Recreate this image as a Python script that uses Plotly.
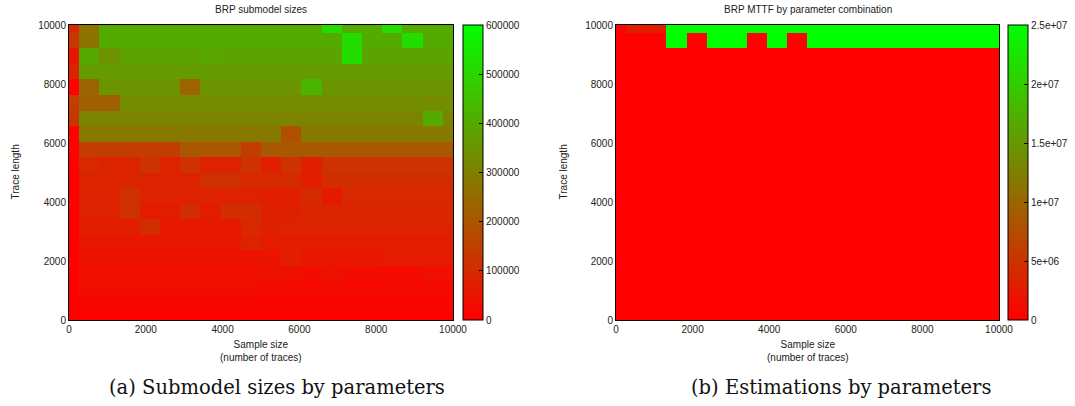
import numpy as np
import plotly.graph_objects as go

# ---------------- data ----------------
sample_sizes = [round(v) for v in np.linspace(0, 10000, 20)]   # x grid (20 points)
trace_lengths = [round(v) for v in np.linspace(0, 10000, 20)]  # y grid (20 points)

# (a) BRP submodel sizes, rows from trace length 0 (bottom) to 10000 (top)
size_r00 = [1000, 2000, 2000, 2000, 2000, 2000, 2000, 2000, 2000, 2000, 2000, 2000, 2000, 2000, 2000, 2000, 2000, 2000, 2000, 2000]
size_r01 = [1000, 16000, 16000, 16000, 16000, 16000, 16000, 16000, 16000, 16000, 12000, 12000, 12000, 12000, 12000, 12000, 12000, 12000, 12000, 12000]
size_r02 = [1000, 28000, 28000, 28000, 28000, 28000, 28000, 28000, 28000, 28000, 22000, 22000, 22000, 22000, 22000, 22000, 22000, 22000, 22000, 22000]
size_r03 = [2000, 35000, 35000, 35000, 35000, 35000, 35000, 35000, 35000, 35000, 40000, 40000, 28000, 42000, 28000, 28000, 24000, 24000, 35000, 35000]
size_r04 = [2000, 42000, 42000, 42000, 42000, 42000, 42000, 42000, 42000, 42000, 47000, 71000, 52000, 52000, 52000, 52000, 61000, 61000, 61000, 61000]
size_r05 = [2000, 52000, 52000, 52000, 52000, 52000, 52000, 52000, 52000, 82000, 66000, 66000, 66000, 66000, 66000, 66000, 66000, 66000, 66000, 66000]
size_r06 = [2000, 71000, 71000, 71000, 106000, 59000, 59000, 59000, 59000, 94000, 75000, 82000, 82000, 82000, 82000, 82000, 82000, 82000, 82000, 82000]
size_r07 = [2000, 78000, 78000, 113000, 66000, 66000, 106000, 66000, 106000, 106000, 75000, 75000, 87000, 87000, 87000, 87000, 87000, 87000, 87000, 87000]
size_r08 = [2000, 82000, 82000, 113000, 78000, 78000, 78000, 78000, 78000, 78000, 71000, 71000, 99000, 59000, 94000, 94000, 94000, 94000, 94000, 94000]
size_r09 = [2000, 82000, 82000, 82000, 82000, 82000, 82000, 113000, 113000, 94000, 99000, 99000, 71000, 106000, 106000, 106000, 106000, 106000, 106000, 106000]
size_r10 = [2000, 94000, 82000, 82000, 118000, 82000, 118000, 78000, 78000, 118000, 71000, 118000, 71000, 118000, 118000, 118000, 118000, 118000, 118000, 118000]
size_r11 = [2000, 141000, 141000, 141000, 141000, 141000, 200000, 200000, 200000, 141000, 207000, 207000, 207000, 207000, 207000, 207000, 207000, 207000, 207000, 207000]
size_r12 = [2000, 282000, 282000, 282000, 282000, 282000, 282000, 282000, 282000, 282000, 282000, 188000, 282000, 282000, 282000, 282000, 282000, 282000, 282000, 282000]
size_r13 = [129000, 311000, 311000, 311000, 311000, 311000, 311000, 311000, 311000, 311000, 311000, 311000, 311000, 311000, 311000, 311000, 311000, 311000, 400000, 311000]
size_r14 = [141000, 224000, 224000, 329000, 329000, 329000, 329000, 329000, 329000, 329000, 329000, 329000, 329000, 329000, 329000, 329000, 329000, 329000, 329000, 329000]
size_r15 = [2000, 235000, 348000, 348000, 348000, 348000, 235000, 348000, 348000, 348000, 348000, 348000, 424000, 348000, 348000, 348000, 348000, 348000, 348000, 348000]
size_r16 = [82000, 365000, 365000, 365000, 365000, 365000, 365000, 365000, 365000, 365000, 365000, 365000, 365000, 365000, 365000, 365000, 365000, 365000, 365000, 365000]
size_r17 = [47000, 395000, 341000, 384000, 384000, 384000, 384000, 390000, 384000, 384000, 384000, 384000, 384000, 384000, 518000, 384000, 384000, 384000, 384000, 384000]
size_r18 = [129000, 271000, 400000, 400000, 400000, 400000, 400000, 400000, 400000, 400000, 400000, 400000, 400000, 400000, 518000, 400000, 400000, 518000, 400000, 400000]
size_r19 = [94000, 271000, 400000, 400000, 400000, 400000, 400000, 400000, 400000, 400000, 400000, 400000, 400000, 518000, 400000, 400000, 518000, 400000, 400000, 400000]

# (b) BRP MTTF estimations, rows from trace length 0 (bottom) to 10000 (top)
mttf_r00 = [100000, 100000, 100000, 100000, 100000, 100000, 100000, 100000, 100000, 100000, 100000, 100000, 100000, 100000, 100000, 100000, 100000, 100000, 100000, 100000]
mttf_r01 = [100000, 100000, 100000, 100000, 100000, 100000, 100000, 100000, 100000, 100000, 100000, 100000, 100000, 100000, 100000, 100000, 100000, 100000, 100000, 100000]
mttf_r02 = [100000, 100000, 100000, 100000, 100000, 100000, 100000, 100000, 100000, 100000, 100000, 100000, 100000, 100000, 100000, 100000, 100000, 100000, 100000, 100000]
mttf_r03 = [100000, 100000, 100000, 100000, 100000, 100000, 100000, 100000, 100000, 100000, 100000, 100000, 100000, 100000, 100000, 100000, 100000, 100000, 100000, 100000]
mttf_r04 = [100000, 100000, 100000, 100000, 100000, 100000, 100000, 100000, 100000, 100000, 100000, 100000, 100000, 100000, 100000, 100000, 100000, 100000, 100000, 100000]
mttf_r05 = [100000, 100000, 100000, 100000, 100000, 100000, 100000, 100000, 100000, 100000, 100000, 100000, 100000, 100000, 100000, 100000, 100000, 100000, 100000, 100000]
mttf_r06 = [100000, 100000, 100000, 100000, 100000, 100000, 100000, 100000, 100000, 100000, 100000, 100000, 100000, 100000, 100000, 100000, 100000, 100000, 100000, 100000]
mttf_r07 = [100000, 100000, 100000, 100000, 100000, 100000, 100000, 100000, 100000, 100000, 100000, 100000, 100000, 100000, 100000, 100000, 100000, 100000, 100000, 100000]
mttf_r08 = [100000, 100000, 100000, 100000, 100000, 100000, 100000, 100000, 100000, 100000, 100000, 100000, 100000, 100000, 100000, 100000, 100000, 100000, 100000, 100000]
mttf_r09 = [100000, 100000, 100000, 100000, 100000, 100000, 100000, 100000, 100000, 100000, 100000, 100000, 100000, 100000, 100000, 100000, 100000, 100000, 100000, 100000]
mttf_r10 = [100000, 100000, 100000, 100000, 100000, 100000, 100000, 100000, 100000, 100000, 100000, 100000, 100000, 100000, 100000, 100000, 100000, 100000, 100000, 100000]
mttf_r11 = [100000, 100000, 100000, 100000, 100000, 100000, 100000, 100000, 100000, 100000, 100000, 100000, 100000, 100000, 100000, 100000, 100000, 100000, 100000, 100000]
mttf_r12 = [100000, 100000, 100000, 100000, 100000, 100000, 100000, 100000, 100000, 100000, 100000, 100000, 100000, 100000, 100000, 100000, 100000, 100000, 100000, 100000]
mttf_r13 = [100000, 100000, 100000, 100000, 100000, 100000, 100000, 100000, 100000, 100000, 100000, 100000, 100000, 100000, 100000, 100000, 100000, 100000, 100000, 100000]
mttf_r14 = [100000, 100000, 100000, 100000, 100000, 100000, 100000, 100000, 100000, 100000, 100000, 100000, 100000, 100000, 100000, 100000, 100000, 100000, 100000, 100000]
mttf_r15 = [100000, 100000, 100000, 100000, 100000, 100000, 100000, 100000, 100000, 100000, 100000, 100000, 100000, 100000, 100000, 100000, 100000, 100000, 100000, 100000]
mttf_r16 = [100000, 100000, 100000, 100000, 100000, 100000, 100000, 100000, 100000, 100000, 100000, 100000, 100000, 100000, 100000, 100000, 100000, 100000, 100000, 100000]
mttf_r17 = [100000, 100000, 100000, 100000, 100000, 100000, 100000, 100000, 100000, 100000, 100000, 100000, 100000, 100000, 100000, 100000, 100000, 100000, 100000, 100000]
mttf_r18 = [150000, 200000, 200000, 25000000, 200000, 25000000, 25000000, 200000, 25000000, 200000, 25000000, 25000000, 25000000, 25000000, 25000000, 25000000, 25000000, 25000000, 25000000, 25000000]
mttf_r19 = [150000, 2900000, 2900000, 25000000, 25000000, 25000000, 25000000, 25000000, 25000000, 25000000, 25000000, 25000000, 25000000, 25000000, 25000000, 25000000, 25000000, 25000000, 25000000, 25000000]

size_ticks = [0, 100000, 200000, 300000, 400000, 500000, 600000]
mttf_ticks = [0, 5e6, 1e7, 1.5e7, 2e7, 2.5e7]
mttf_tick_text = ["0", "5e+06", "1e+07", "1.5e+07", "2e+07", "2.5e+07"]
axis_ticks = [0, 2000, 4000, 6000, 8000, 10000]

size_z = [size_r00, size_r01, size_r02, size_r03, size_r04, size_r05, size_r06, size_r07, size_r08, size_r09,
          size_r10, size_r11, size_r12, size_r13, size_r14, size_r15, size_r16, size_r17, size_r18, size_r19]
mttf_z = [mttf_r00, mttf_r01, mttf_r02, mttf_r03, mttf_r04, mttf_r05, mttf_r06, mttf_r07, mttf_r08, mttf_r09,
          mttf_r10, mttf_r11, mttf_r12, mttf_r13, mttf_r14, mttf_r15, mttf_r16, mttf_r17, mttf_r18, mttf_r19]

# ---------------- layout helpers ----------------
W, H = 1075, 406
def fx(p):
    return p / W
def fy(p):
    return 1 - p / H

TOP, BOT = 25, 320
L1, R1 = 69, 453
L2, R2 = 616, 999
CB1, CB2 = 463, 1008

scale = [[0, "rgb(255,0,0)"], [1, "rgb(0,255,0)"]]
font_sans = "Liberation Sans, Arial, sans-serif"
tick_font = dict(family=font_sans, size=10, color="#222")

def cbar(xpix, vals, text):
    return dict(
        x=fx(xpix), xanchor="left", xpad=0, ypad=0,
        y=(fy(TOP) + fy(BOT)) / 2, yanchor="middle",
        len=(BOT - TOP) / H, lenmode="fraction",
        thickness=20, thicknessmode="pixels",
        outlinecolor="black", outlinewidth=1,
        tickvals=vals, ticktext=text,
        ticks="inside", ticklen=4, tickcolor="black",
        tickfont=tick_font,
    )

fig = go.Figure()
fig.add_trace(go.Heatmap(
    x=sample_sizes, y=trace_lengths, z=size_z,
    zmin=0, zmax=600000, colorscale=scale,
    colorbar=cbar(CB1, size_ticks, [str(v) for v in size_ticks]),
    xaxis="x", yaxis="y", hoverinfo="skip",
))
fig.add_trace(go.Heatmap(
    x=sample_sizes, y=trace_lengths, z=mttf_z,
    zmin=0, zmax=2.5e7, colorscale=scale,
    colorbar=cbar(CB2, mttf_ticks, mttf_tick_text),
    xaxis="x2", yaxis="y2", hoverinfo="skip",
))

ax_common = dict(
    range=[0, 10000], tickvals=axis_ticks, ticktext=[str(v) for v in axis_ticks],
    showline=True, mirror=True, linecolor="black", linewidth=1,
    showgrid=False, zeroline=False, ticks="", tickfont=tick_font,
    automargin=False,
)

fig.update_layout(
    template="none",
    width=W, height=H,
    margin=dict(l=0, r=0, t=0, b=0, autoexpand=False),
    paper_bgcolor="white", plot_bgcolor="white",
    xaxis=dict(domain=[fx(L1), fx(R1)], anchor="y", **ax_common),
    yaxis=dict(domain=[fy(BOT), fy(TOP)], anchor="x", **ax_common),
    xaxis2=dict(domain=[fx(L2), fx(R2)], anchor="y2", **ax_common),
    yaxis2=dict(domain=[fy(BOT), fy(TOP)], anchor="x2", **ax_common),
    showlegend=False,
)

small = dict(family=font_sans, size=10, color="#222")
ann = []
for (l, r, title, ytitle_x, caption, cap_x) in [
    (L1, R1, "BRP submodel sizes", 15, "(a) Submodel sizes by parameters", 277),
    (L2, R2, "BRP MTTF by parameter combination", 563, "(b) Estimations by parameters", 841),
]:
    cx = (l + r) / 2
    ann.append(dict(text=title, x=fx(cx), y=fy(10), xref="paper", yref="paper",
                    xanchor="center", yanchor="middle", showarrow=False, font=small))
    ann.append(dict(text="Sample size<br>(number of traces)", x=fx(cx), y=fy(337),
                    xref="paper", yref="paper", xanchor="center", yanchor="top",
                    showarrow=False, font=small))
    ann.append(dict(text="Trace length", x=fx(ytitle_x), y=fy((TOP + BOT) / 2),
                    xref="paper", yref="paper", xanchor="center", yanchor="middle",
                    textangle=-90, showarrow=False, font=small))
    ann.append(dict(text=caption, x=fx(cap_x), y=fy(387), xref="paper", yref="paper",
                    xanchor="center", yanchor="middle", showarrow=False,
                    font=dict(family="DejaVu Serif, serif", size=19.5, color="#111")))
fig.update_layout(annotations=ann)

# remove the default 8px page margin so the figure fills the window exactly
fig.write_html("out.html", config={"displayModeBar": False},
               post_script="document.body.style.margin='0px';")
